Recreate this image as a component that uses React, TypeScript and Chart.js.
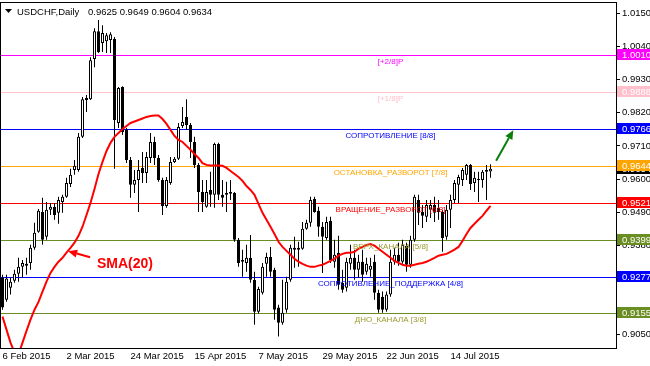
import React, { useEffect, useRef } from 'react';
import { Chart, registerables } from 'chart.js';

Chart.register(...registerables);

const FONT = "'Liberation Sans', Arial, sans-serif";

const symbolTitle = 'USDCHF,Daily';
const headerValues = ['0.9625', '0.9649', '0.9604', '0.9634'];

const opens = [
  0.9273, 0.9200, 0.9240, 0.9263, 0.9286, 0.9309, 0.9319, 0.9322, 0.9372, 0.9425,
  0.9491, 0.9409, 0.9498, 0.9508, 0.9488, 0.9524, 0.9541, 0.9584, 0.9630, 0.9630,
  0.9740, 0.9869, 0.9865, 0.9998, 1.0090, 1.0051, 1.0057, 1.0061, 1.0064, 0.9786,
  0.9905, 0.9763, 0.9663, 0.9581, 0.9597, 0.9637, 0.9620, 0.9670, 0.9723, 0.9670,
  0.9597, 0.9511, 0.9587, 0.9657, 0.9667, 0.9776, 0.9806, 0.9779, 0.9723, 0.9647,
  0.9557, 0.9508, 0.9564, 0.9548, 0.9716, 0.9548, 0.9548, 0.9551, 0.9554, 0.9399,
  0.9332, 0.9322, 0.9339, 0.9266, 0.9160, 0.9223, 0.9319, 0.9342, 0.9299, 0.9174,
  0.9124, 0.9167, 0.9266, 0.9366, 0.9366, 0.9369, 0.9435, 0.9455, 0.9534, 0.9495,
  0.9442, 0.9405, 0.9462, 0.9326, 0.9356, 0.9256, 0.9240, 0.9319, 0.9339, 0.9299,
  0.9326, 0.9293, 0.9299, 0.9326, 0.9223, 0.9210, 0.9167, 0.9217, 0.9326, 0.9349,
  0.9326, 0.9379, 0.9316, 0.9399, 0.9531, 0.9491, 0.9475, 0.9498, 0.9514, 0.9505,
  0.9491, 0.9409, 0.9498, 0.9531, 0.9581, 0.9597, 0.9614, 0.9647, 0.9587, 0.9597,
  0.9597, 0.9624, 0.9625,
];
const highs = [
  0.9283, 0.9283, 0.9273, 0.9299, 0.9339, 0.9332, 0.9339, 0.9382, 0.9455, 0.9501,
  0.9538, 0.9524, 0.9521, 0.9521, 0.9541, 0.9548, 0.9604, 0.9634, 0.9663, 0.9753,
  0.9872, 0.9879, 1.0004, 1.0100, 1.0127, 1.0110, 1.0084, 1.0087, 1.0071, 0.9905,
  0.9908, 0.9769, 0.9673, 0.9630, 0.9663, 0.9690, 0.9690, 0.9753, 0.9740, 0.9680,
  0.9604, 0.9607, 0.9673, 0.9673, 0.9786, 0.9839, 0.9865, 0.9786, 0.9740, 0.9653,
  0.9597, 0.9597, 0.9624, 0.9720, 0.9720, 0.9597, 0.9591, 0.9597, 0.9557, 0.9405,
  0.9366, 0.9382, 0.9415, 0.9293, 0.9243, 0.9322, 0.9356, 0.9375, 0.9306, 0.9183,
  0.9266, 0.9276, 0.9382, 0.9409, 0.9392, 0.9458, 0.9465, 0.9541, 0.9541, 0.9508,
  0.9458, 0.9475, 0.9475, 0.9399, 0.9412, 0.9299, 0.9339, 0.9382, 0.9366, 0.9349,
  0.9366, 0.9339, 0.9339, 0.9349, 0.9233, 0.9227, 0.9227, 0.9366, 0.9372, 0.9389,
  0.9399, 0.9389, 0.9412, 0.9548, 0.9548, 0.9514, 0.9531, 0.9531, 0.9541, 0.9531,
  0.9498, 0.9514, 0.9548, 0.9597, 0.9614, 0.9637, 0.9650, 0.9650, 0.9624, 0.9624,
  0.9630, 0.9647, 0.9649,
];
const lows = [
  0.9167, 0.9193, 0.9217, 0.9256, 0.9260, 0.9273, 0.9283, 0.9299, 0.9366, 0.9422,
  0.9382, 0.9399, 0.9481, 0.9465, 0.9452, 0.9488, 0.9538, 0.9574, 0.9614, 0.9624,
  0.9736, 0.9822, 0.9862, 0.9971, 1.0018, 1.0021, 1.0018, 1.0018, 0.9634, 0.9769,
  0.9746, 0.9653, 0.9538, 0.9554, 0.9491, 0.9587, 0.9587, 0.9653, 0.9647, 0.9591,
  0.9481, 0.9505, 0.9581, 0.9653, 0.9663, 0.9769, 0.9763, 0.9670, 0.9637, 0.9491,
  0.9491, 0.9505, 0.9508, 0.9505, 0.9531, 0.9508, 0.9491, 0.9531, 0.9392, 0.9309,
  0.9276, 0.9293, 0.9256, 0.9117, 0.9154, 0.9217, 0.9276, 0.9276, 0.9134, 0.9078,
  0.9117, 0.9157, 0.9260, 0.9306, 0.9309, 0.9366, 0.9432, 0.9442, 0.9488, 0.9409,
  0.9289, 0.9399, 0.9322, 0.9306, 0.9233, 0.9223, 0.9227, 0.9299, 0.9266, 0.9273,
  0.9260, 0.9283, 0.9276, 0.9200, 0.9157, 0.9157, 0.9160, 0.9210, 0.9316, 0.9313,
  0.9319, 0.9293, 0.9306, 0.9392, 0.9448, 0.9438, 0.9458, 0.9471, 0.9458, 0.9465,
  0.9359, 0.9399, 0.9438, 0.9521, 0.9521, 0.9577, 0.9597, 0.9564, 0.9557, 0.9524,
  0.9571, 0.9531, 0.9604,
];
const closes = [
  0.9174, 0.9270, 0.9260, 0.9286, 0.9309, 0.9322, 0.9313, 0.9372, 0.9422, 0.9495,
  0.9399, 0.9498, 0.9508, 0.9481, 0.9531, 0.9541, 0.9587, 0.9614, 0.9644, 0.9740,
  0.9865, 0.9862, 0.9994, 1.0090, 1.0021, 1.0084, 1.0077, 1.0080, 0.9796, 0.9902,
  0.9756, 0.9663, 0.9581, 0.9597, 0.9630, 0.9620, 0.9673, 0.9723, 0.9670, 0.9597,
  0.9511, 0.9597, 0.9657, 0.9667, 0.9773, 0.9789, 0.9779, 0.9723, 0.9647, 0.9557,
  0.9524, 0.9557, 0.9548, 0.9716, 0.9548, 0.9538, 0.9554, 0.9557, 0.9399, 0.9322,
  0.9326, 0.9339, 0.9266, 0.9160, 0.9236, 0.9309, 0.9342, 0.9293, 0.9167, 0.9124,
  0.9157, 0.9260, 0.9372, 0.9372, 0.9372, 0.9435, 0.9455, 0.9531, 0.9491, 0.9442,
  0.9409, 0.9458, 0.9332, 0.9349, 0.9250, 0.9233, 0.9326, 0.9339, 0.9299, 0.9326,
  0.9283, 0.9319, 0.9313, 0.9223, 0.9167, 0.9167, 0.9217, 0.9326, 0.9349, 0.9326,
  0.9382, 0.9316, 0.9399, 0.9541, 0.9488, 0.9478, 0.9514, 0.9514, 0.9488, 0.9491,
  0.9405, 0.9498, 0.9531, 0.9587, 0.9607, 0.9630, 0.9647, 0.9584, 0.9604, 0.9600,
  0.9624, 0.9630, 0.9634,
];
const sma20 = [
  0.9144, 0.9101, 0.9058, 0.9025, 0.9018, 0.9058, 0.9097, 0.9134, 0.9167, 0.9193,
  0.9227, 0.9260, 0.9289, 0.9309, 0.9326, 0.9339, 0.9356, 0.9372, 0.9389, 0.9412,
  0.9442, 0.9481, 0.9521, 0.9567, 0.9617, 0.9657, 0.9693, 0.9720, 0.9740, 0.9753,
  0.9766, 0.9776, 0.9786, 0.9791, 0.9796, 0.9801, 0.9806, 0.9809, 0.9811, 0.9811,
  0.9799, 0.9783, 0.9763, 0.9743, 0.9730, 0.9723, 0.9710, 0.9697, 0.9683, 0.9670,
  0.9653, 0.9647, 0.9645, 0.9645, 0.9645, 0.9644, 0.9637, 0.9627, 0.9617, 0.9607,
  0.9594, 0.9577, 0.9564, 0.9548, 0.9518, 0.9488, 0.9465, 0.9442, 0.9418, 0.9392,
  0.9375, 0.9362, 0.9349, 0.9336, 0.9326, 0.9319, 0.9313, 0.9309, 0.9309, 0.9313,
  0.9316, 0.9322, 0.9329, 0.9336, 0.9346, 0.9352, 0.9356, 0.9356, 0.9359, 0.9369,
  0.9375, 0.9382, 0.9385, 0.9379, 0.9369, 0.9359, 0.9349, 0.9339, 0.9329, 0.9322,
  0.9316, 0.9313, 0.9313, 0.9316, 0.9319, 0.9322, 0.9326, 0.9332, 0.9339, 0.9346,
  0.9349, 0.9352, 0.9359, 0.9366, 0.9375, 0.9395, 0.9418, 0.9438, 0.9452, 0.9465,
  0.9478, 0.9495, 0.9511,
];

const dateLabels = ['6 Feb 2015', '2 Mar 2015', '24 Mar 2015', '15 Apr 2015', '7 May 2015', '29 May 2015', '22 Jun 2015', '14 Jul 2015'];
const dateLabelIndex = [0, 16, 32, 48, 64, 80, 96, 112];

const yTicks = [1.015, 1.004, 0.993, 0.982, 0.971, 0.96, 0.949, 0.938, 0.927, 0.916];
const bottomTick = 0.905;
const yMin = 0.904;
const yMax = 1.0187;

const levelValues = [1.001, 0.9888, 0.9766, 0.9644, 0.9521, 0.9399, 0.9277, 0.9155];
const levelNames = ['[+2/8]P', '[+1/8]P', 'СОПРОТИВЛЕНИЕ [8/8]', 'ОСТАНОВКА_РАЗВОРОТ [7/8]', 'ВРАЩЕНИЕ_РАЗВОРОТ [6/8]', 'ВЕРХ_КАНАЛА [5/8]', 'СОПРОТИВЛЕНИЕ_ПОДДЕРЖКА [4/8]', 'ДНО_КАНАЛА [3/8]'];
const levelColors = ['#ff00ff', '#ffc0cb', '#0000ff', '#ffa500', '#ff0000', '#6b8e23', '#0000ff', '#6b8e23'];
const levelTextColors = ['#ff00ff', '#ffc0cb', '#0000ff', '#ffa500', '#ff0000', '#9a9a2e', '#0000ff', '#9a9a2e'];
const levelLabelIndex = 97;
const currentPrice = 0.9634;

const smaNoteText = 'SMA(20)';
const smaNote = { index: 23.6, price: 0.9304 };
const smaArrow = { fromIndex: 21.9, fromPrice: 0.9341, toIndex: 16.4, toPrice: 0.9361 };
const upArrow = { fromIndex: 123.4, fromPrice: 0.9661, toIndex: 127.7, toPrice: 0.9762 };

function drawArrow(ctx: CanvasRenderingContext2D, x1: number, y1: number, x2: number, y2: number, color: string, width: number, headLen: number, headW: number) {
  const a = Math.atan2(y2 - y1, x2 - x1);
  const bx = x2 - headLen * Math.cos(a);
  const by = y2 - headLen * Math.sin(a);
  ctx.save();
  ctx.strokeStyle = color;
  ctx.lineWidth = width;
  ctx.beginPath();
  ctx.moveTo(x1, y1);
  ctx.lineTo(bx, by);
  ctx.stroke();
  ctx.fillStyle = color;
  ctx.beginPath();
  ctx.moveTo(x2, y2);
  ctx.lineTo(bx + headW * Math.sin(a), by - headW * Math.cos(a));
  ctx.lineTo(bx - headW * Math.sin(a), by + headW * Math.cos(a));
  ctx.closePath();
  ctx.fill();
  ctx.restore();
}

const mt4Plugin = {
  id: 'mt4',
  beforeDatasetsDraw(chart: any) {
    const { ctx, chartArea: a, scales } = chart;
    ctx.save();
    levelValues.forEach((v, i) => {
      const y = Math.round(scales.y.getPixelForValue(v)) + 0.5;
      ctx.strokeStyle = levelColors[i];
      ctx.lineWidth = 1;
      ctx.beginPath();
      ctx.moveTo(a.left, y);
      ctx.lineTo(a.right, y);
      ctx.stroke();
    });
    ctx.restore();
  },
  afterDatasetsDraw(chart: any) {
    const { ctx, scales } = chart;
    const xs = scales.x, ys = scales.y;
    ctx.save();
    ctx.font = `8px ${FONT}`;
    ctx.textAlign = 'center';
    ctx.textBaseline = 'alphabetic';
    const lx = xs.getPixelForValue(levelLabelIndex);
    levelValues.forEach((v, i) => {
      const y = Math.round(ys.getPixelForValue(v));
      ctx.fillStyle = levelTextColors[i];
      ctx.fillText(levelNames[i], lx, y + 9);
    });
    ctx.font = `bold 14px ${FONT}`;
    ctx.textAlign = 'left';
    ctx.fillStyle = '#ff0000';
    ctx.fillText(smaNoteText, xs.getPixelForValue(smaNote.index), ys.getPixelForValue(smaNote.price));
    drawArrow(ctx, xs.getPixelForValue(smaArrow.fromIndex), ys.getPixelForValue(smaArrow.fromPrice), xs.getPixelForValue(smaArrow.toIndex), ys.getPixelForValue(smaArrow.toPrice), '#ff0000', 2, 9, 4);
    drawArrow(ctx, xs.getPixelForValue(upArrow.fromIndex), ys.getPixelForValue(upArrow.fromPrice), xs.getPixelForValue(upArrow.toIndex), ys.getPixelForValue(upArrow.toPrice), '#0a7d0a', 2, 9, 4);
    ctx.restore();
  },
  afterDraw(chart: any) {
    const { ctx, chartArea: a, scales } = chart;
    const ys = scales.y;
    ctx.save();
    ctx.strokeStyle = '#000';
    ctx.lineWidth = 1;
    ctx.strokeRect(a.left + 0.5, a.top + 0.5, a.right - a.left, a.bottom - a.top);
    const by = Math.round(ys.getPixelForValue(bottomTick)) - 11;
    ctx.beginPath();
    ctx.moveTo(a.right, by + 0.5);
    ctx.lineTo(a.right + 4, by + 0.5);
    ctx.stroke();
    ctx.font = `9.5px ${FONT}`;
    ctx.fillStyle = '#000';
    ctx.textAlign = 'left';
    ctx.textBaseline = 'middle';
    ctx.fillText(bottomTick.toFixed(4), a.right + 6, by);
    const box = (v: number, color: string) => {
      const y = Math.round(ys.getPixelForValue(v));
      ctx.fillStyle = color;
      ctx.fillRect(a.right + 1, y - 6, chart.width - a.right - 1, 11);
      ctx.fillStyle = '#ffffff';
      ctx.fillText(v.toFixed(4), a.right + 6, y);
    };
    box(currentPrice, '#000000');
    levelValues.forEach((v, i) => box(v, levelColors[i]));
    ctx.fillStyle = '#000';
    ctx.beginPath();
    ctx.moveTo(5, 9);
    ctx.lineTo(12, 9);
    ctx.lineTo(8.5, 13);
    ctx.closePath();
    ctx.fill();
    ctx.textBaseline = 'alphabetic';
    ctx.fillText(symbolTitle, 17, 15);
    ctx.fillText(headerValues.join(' '), 88, 15);
    ctx.restore();
  },
};

export default function App() {
  const ref = useRef<HTMLCanvasElement>(null);
  useEffect(() => {
    document.body.style.margin = '0';
    const canvas = ref.current;
    if (!canvas) return;
    const idx = closes.map((_, i) => i);
    const bodyData = idx.map((i) => ({ x: i, y: [opens[i], closes[i]] }));
    const wickData = idx.map((i) => ({ x: i, y: [lows[i], highs[i]] }));
    const smaData = idx.map((i) => ({ x: i, y: sma20[i] }));
    const chart = new Chart(canvas, {
      type: 'bar',
      data: {
        datasets: [
          {
            type: 'line',
            data: smaData,
            borderColor: '#ff0000',
            borderWidth: 2,
            pointRadius: 0,
            tension: 0,
            fill: false,
          } as any,
          {
            data: bodyData,
            grouped: false,
            barThickness: 3,
            minBarLength: 1,
            borderWidth: 1,
            borderSkipped: false,
            inflateAmount: 0,
            borderColor: '#000000',
            backgroundColor: (c: any) => {
              const r = c.raw;
              return r && r.y[1] > r.y[0] ? '#ffffff' : '#000000';
            },
          } as any,
          {
            data: wickData,
            grouped: false,
            barThickness: 1,
            borderWidth: 0,
            inflateAmount: 0,
            backgroundColor: '#000000',
          } as any,
        ],
      },
      options: {
        responsive: false,
        animation: false,
        layout: { padding: { top: 2, left: 0, right: 0, bottom: 0 } },
        plugins: { legend: { display: false }, tooltip: { enabled: false } },
        scales: {
          x: {
            type: 'linear',
            min: -0.625,
            max: 153.375,
            offset: false,
            grid: { display: false, drawTicks: false },
            border: { display: false },
            afterBuildTicks: (s: any) => {
              s.ticks = dateLabelIndex.map((v) => ({ value: v }));
            },
            afterFit: (s: any) => {
              s.height = 18;
              s.paddingLeft = 0;
              s.paddingRight = 0;
              s.paddingTop = 0;
              s.paddingBottom = 0;
            },
            ticks: {
              autoSkip: false,
              maxRotation: 0,
              align: 'start',
              padding: 3,
              color: '#000',
              font: { family: FONT, size: 9.5 },
              callback: (v: any) => {
                const k = dateLabelIndex.indexOf(Number(v));
                return k >= 0 ? dateLabels[k] : '';
              },
            },
          },
          y: {
            type: 'linear',
            position: 'right',
            min: yMin,
            max: yMax,
            afterBuildTicks: (s: any) => {
              s.ticks = yTicks.map((v) => ({ value: v }));
            },
            afterFit: (s: any) => {
              s.width = 34;
              s.paddingTop = 0;
              s.paddingBottom = 0;
              s.paddingLeft = 0;
              s.paddingRight = 0;
            },
            grid: { display: true, drawOnChartArea: false, drawTicks: true, tickLength: 4, color: '#000' },
            border: { display: true, color: '#000' },
            ticks: {
              color: '#000',
              padding: 2,
              font: { family: FONT, size: 9.5 },
              callback: (v: any) => Number(v).toFixed(4),
            },
          },
        },
      } as any,
      plugins: [mt4Plugin],
    });
    return () => chart.destroy();
  }, []);
  return (
    <div style={{ width: 650, height: 366 }}>
      <canvas ref={ref} width={650} height={366} style={{ display: 'block' }} />
    </div>
  );
}
